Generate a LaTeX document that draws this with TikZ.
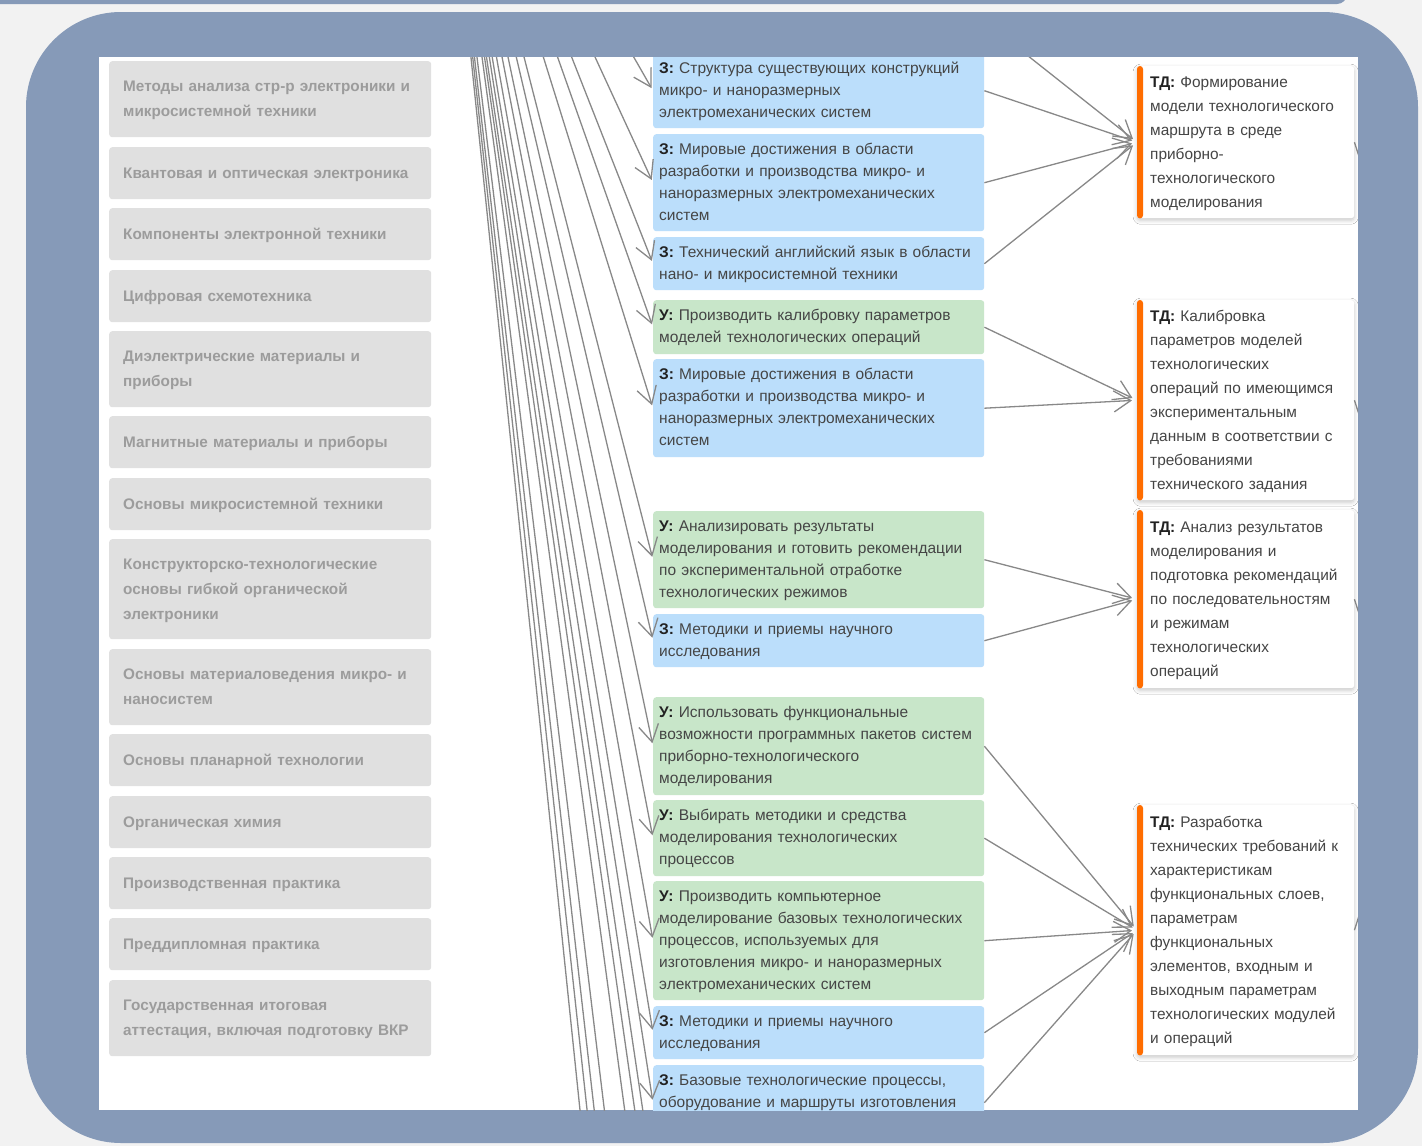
\documentclass[tikz,border=0pt]{standalone}
\usepackage{fontspec}
\setmainfont{Liberation Sans}
\usetikzlibrary{arrows.meta,shadows.blur,calc}
\definecolor{pagebg}{HTML}{F2F2F2}
\definecolor{framec}{HTML}{869AB8}
\definecolor{grayfill}{HTML}{E0E0E0}
\definecolor{graytext}{HTML}{9C9C9C}
\definecolor{bluefill}{HTML}{BBDEFB}
\definecolor{greenfill}{HTML}{C8E6C9}
\definecolor{bodytext}{HTML}{454545}
\definecolor{headtext}{HTML}{222222}
\definecolor{orng}{HTML}{FF6D00}
\definecolor{linkc}{HTML}{888888}
\newcommand{\rows}[1]{\begin{tabular}{@{}l@{}}#1\end{tabular}}
\newcommand{\hd}[1]{\textbf{\color{headtext}#1}}
\tikzset{
  discbox/.style={anchor=north west, fill=grayfill, rounded corners=3pt,
    minimum width=322pt, text width=294pt, inner xsep=14pt, inner ysep=0pt,
    align=left, font=\fontsize{15.3}{25}\selectfont\bfseries, text=graytext},
  midbox/.style={anchor=north west, rounded corners=3pt,
    minimum width=331pt, text width=319pt, inner xsep=6pt, inner ysep=0pt,
    align=left, font=\fontsize{15.5}{22}\selectfont, text=bodytext},
  zbox/.style={midbox, fill=bluefill},
  ubox/.style={midbox, fill=greenfill},
  tdbox/.style={anchor=north west, fill=white, rounded corners=3pt,
    minimum width=217pt, text width=191pt, inner xsep=13pt, inner ysep=0pt,
    align=left, font=\fontsize{15.4}{24}\selectfont, text=bodytext,
    blur shadow={shadow xshift=0pt, shadow yshift=-2pt, shadow opacity=22, shadow blur radius=4pt}},
  fanlink/.style={draw=linkc, line width=1.3pt, shorten >=3pt,
    -{Straight Barb[length=17pt,width=20pt,line width=1.3pt]}},
  tdlink/.style={draw=linkc, line width=1.3pt, shorten >=5pt,
    -{Straight Barb[length=17pt,width=21pt,line width=1.3pt]}},
  outlink/.style={draw=linkc, line width=1.3pt}
}
\begin{document}
\begin{tikzpicture}[x=1pt,y=-1pt]
\useasboundingbox (0,0) rectangle (1422,1146);
\fill[pagebg] (0,0) rectangle (1422,1146);
\fill[framec, rounded corners=10pt] (-20,-20) rectangle (1347,4);
\fill[framec, rounded corners=95pt] (26,12) rectangle (1418,1143);
\fill[white] (99,57) rectangle (1358,1110);
\begin{scope}
\clip (99,57) rectangle (1358,1110);
% disciplines
\node[discbox, minimum height=76pt] (g1) at (109,61) {\rows{Методы анализа стр-р электроники и\\микросистемной техники}};
\node[discbox, minimum height=52pt] (g2) at (109,147) {\rows{Квантовая и оптическая электроника}};
\node[discbox, minimum height=52pt] (g3) at (109,208) {\rows{Компоненты электронной техники}};
\node[discbox, minimum height=52pt] (g4) at (109,270) {\rows{Цифровая схемотехника}};
\node[discbox, minimum height=76pt] (g5) at (109,331) {\rows{Диэлектрические материалы и\\приборы}};
\node[discbox, minimum height=52pt] (g6) at (109,416) {\rows{Магнитные материалы и приборы}};
\node[discbox, minimum height=52pt] (g7) at (109,478) {\rows{Основы микросистемной техники}};
\node[discbox, minimum height=100pt] (g8) at (109,539) {\rows{Конструкторско-технологические\\основы гибкой органической\\электроники}};
\node[discbox, minimum height=76pt] (g9) at (109,649) {\rows{Основы материаловедения микро- и\\наносистем}};
\node[discbox, minimum height=52pt] (g10) at (109,734) {\rows{Основы планарной технологии}};
\node[discbox, minimum height=52pt] (g11) at (109,796) {\rows{Органическая химия}};
\node[discbox, minimum height=52pt] (g12) at (109,857) {\rows{Производственная практика}};
\node[discbox, minimum height=52pt] (g13) at (109,918) {\rows{Преддипломная практика}};
\node[discbox, minimum height=76pt] (g14) at (109,980) {\rows{Государственная итоговая\\аттестация, включая подготовку ВКР}};
% knowledge / skills
\node[zbox, minimum height=75pt] (m1) at (653,53) {\rows{\hd{З:} Структура существующих конструкций\\микро- и наноразмерных\\электромеханических систем}};
\node[zbox, minimum height=97pt] (m2) at (653,134) {\rows{\hd{З:} Мировые достижения в области\\разработки и производства микро- и\\наноразмерных электромеханических\\систем}};
\node[zbox, minimum height=53pt] (m3) at (653,237) {\rows{\hd{З:} Технический английский язык в области\\нано- и микросистемной техники}};
\node[ubox, minimum height=54pt] (m4) at (653,300) {\rows{\hd{У:} Производить калибровку параметров\\моделей технологических операций}};
\node[zbox, minimum height=98pt] (m5) at (653,359) {\rows{\hd{З:} Мировые достижения в области\\разработки и производства микро- и\\наноразмерных электромеханических\\систем}};
\node[ubox, minimum height=97pt] (m6) at (653,511) {\rows{\hd{У:} Анализировать результаты\\моделирования и готовить рекомендации\\по экспериментальной отработке\\технологических режимов}};
\node[zbox, minimum height=53pt] (m7) at (653,614) {\rows{\hd{З:} Методики и приемы научного\\исследования}};
\node[ubox, minimum height=98pt] (m8) at (653,697) {\rows{\hd{У:} Использовать функциональные\\возможности программных пакетов систем\\приборно-технологического\\моделирования}};
\node[ubox, minimum height=76pt] (m9) at (653,800) {\rows{\hd{У:} Выбирать методики и средства\\моделирования технологических\\процессов}};
\node[ubox, minimum height=119pt] (m10) at (653,881) {\rows{\hd{У:} Производить компьютерное\\моделирование базовых технологических\\процессов, используемых для\\изготовления микро- и наноразмерных\\электромеханических систем}};
\node[zbox, minimum height=53pt] (m11) at (653,1006) {\rows{\hd{З:} Методики и приемы научного\\исследования}};
\node[zbox, minimum height=75pt] (m12) at (653,1065) {\rows{\hd{З:} Базовые технологические процессы,\\оборудование и маршруты изготовления\\\strut}};
% labour actions
\node[tdbox, minimum height=152pt] (r1) at (1137,66) {\rows{\hd{ТД:} Формирование\\модели технологического\\маршрута в среде\\приборно-\\технологического\\моделирования}};
\node[tdbox, minimum height=200pt] (r2) at (1137,300) {\rows{\hd{ТД:} Калибровка\\параметров моделей\\технологических\\операций по имеющимся\\экспериментальным\\данным в соответствии с\\требованиями\\технического задания}};
\node[tdbox, minimum height=178pt] (r3) at (1137,510) {\rows{\hd{ТД:} Анализ результатов\\моделирования и\\подготовка рекомендаций\\по последовательностям\\и режимам\\технологических\\операций}};
\node[tdbox, minimum height=250pt] (r4) at (1137,805) {\rows{\hd{ТД:} Разработка\\технических требований к\\характеристикам\\функциональных слоев,\\параметрам\\функциональных\\элементов, входным и\\выходным параметрам\\технологических модулей\\и операций}};
\foreach \r in {r1,r2,r3,r4}{
  \fill[orng, rounded corners=3pt] (\r.north west) rectangle ([xshift=6pt]\r.south west);
}
% hidden ends
\coordinate (src) at (435,-290);
\coordinate (h1) at (653,1179);
\coordinate (h2) at (653,1238);
\coordinate (h3) at (653,1319);
\coordinate (h4) at (653,1512);
\coordinate (h5) at (653,1627);
\coordinate (h6) at (653,1717);
\coordinate (h7) at (653,1815);
\coordinate (h0) at (984,21);
\coordinate (o1) at (1364,172);
\coordinate (o2) at (1364,430);
\coordinate (o3) at (1364,629);
\coordinate (o4) at (1364,900);
% fan from the selected discipline
\foreach \t in {m1,m2,m3,m4,m5,m6,m7,m8,m9,m10,m11,m12}{
  \draw[fanlink] (src) -- (\t.west);
}
\foreach \t in {h1,h2,h3,h4,h5,h6,h7}{
  \draw[fanlink] (src) -- (\t);
}
% links to labour actions
\draw[tdlink] (h0) -- (r1.west);
\draw[tdlink] (m1.east) -- (r1.west);
\draw[tdlink] (m2.east) -- (r1.west);
\draw[tdlink] (m3.east) -- (r1.west);
\draw[tdlink] (m4.east) -- (r2.west);
\draw[tdlink] (m5.east) -- (r2.west);
\draw[tdlink] (m6.east) -- (r3.west);
\draw[tdlink] (m7.east) -- (r3.west);
\draw[tdlink] (m8.east) -- (r4.west);
\draw[tdlink] (m9.east) -- (r4.west);
\draw[tdlink] (m10.east) -- (r4.west);
\draw[tdlink] (m11.east) -- (r4.west);
\draw[tdlink] (m12.east) -- (r4.west);
% outgoing stubs
\draw[outlink] (r1.east) -- (o1);
\draw[outlink] (r2.east) -- (o2);
\draw[outlink] (r3.east) -- (o3);
\draw[outlink] (r4.east) -- (o4);
\end{scope}
\end{tikzpicture}
\end{document}
